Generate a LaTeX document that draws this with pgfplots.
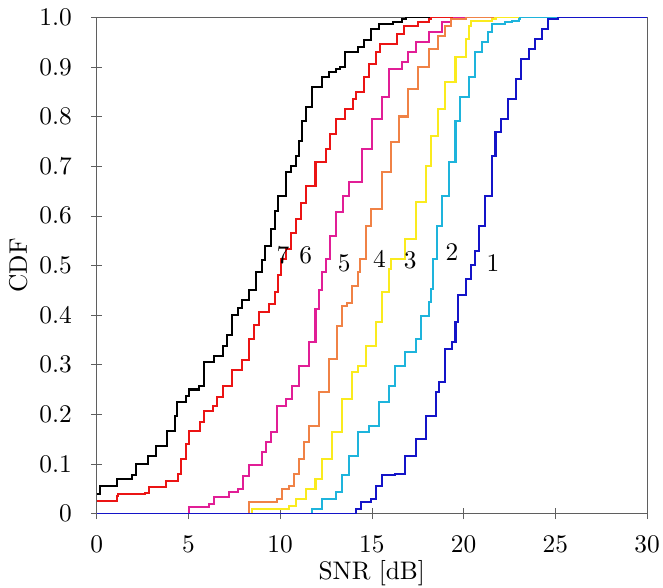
\documentclass[border=0pt]{standalone}
\usepackage{pgfplots}
\pgfplotsset{compat=1.18}

\definecolor{c1}{RGB}{20,20,200}
\definecolor{c2}{RGB}{30,180,220}
\definecolor{c3}{RGB}{250,235,30}
\definecolor{c4}{RGB}{240,130,70}
\definecolor{c5}{RGB}{225,30,150}
\definecolor{c6}{RGB}{235,20,20}
\definecolor{c7}{RGB}{0,0,0}
\definecolor{axgray}{RGB}{95,95,95}

\begin{document}
\begin{tikzpicture}
\begin{axis}[
    scale only axis,
    width=217pt, height=195.7pt,
    xmin=0, xmax=30, ymin=0, ymax=1,
    xtick={0,5,...,30},
    ytick={0,0.1,...,1.0},
    yticklabels={0,0.1,0.2,0.3,0.4,0.5,0.6,0.7,0.8,0.9,1.0},
    tick pos=left,
    tick align=center,
    axis line style={axgray},
    tick style={axgray},
    xticklabel style={yshift=-3.3pt},
    yticklabel style={xshift=-4.1pt},
    xlabel={SNR [dB]},
    ylabel={CDF},
    xlabel style={yshift=3.7pt},
    ylabel style={yshift=-2.1pt},
    every axis plot/.append style={const plot, line width=0.8pt, no marks},
  ]
  % 7
  \addplot[c7] coordinates {
    (0,0.04) (0.2,0.056) (1.11,0.07) (1.92,0.078) (2.17,0.10) (2.78,0.117)
    (3.24,0.137) (3.84,0.167) (4.25,0.197) (4.4,0.225) (4.85,0.237) (5.06,0.25)
    (5.56,0.258) (5.86,0.305) (6.42,0.318) (6.87,0.338) (7.08,0.36) (7.38,0.40)
    (7.68,0.415) (7.94,0.43) (8.29,0.45) (8.69,0.487) (9.0,0.51) (9.2,0.54)
    (9.5,0.573) (9.71,0.61) (9.91,0.64) (10.31,0.688) (10.62,0.70) (10.87,0.72)
    (11.02,0.75) (11.22,0.79) (11.42,0.82) (11.73,0.86) (12.28,0.88) (12.64,0.89)
    (13.04,0.895) (13.24,0.90) (13.55,0.93) (14.26,0.94) (14.56,0.955) (14.96,0.976)
    (15.37,0.986) (16.18,0.99) (16.63,0.996) (16.88,1) (30,1)
  };
  % 6
  \addplot[c6] coordinates {
    (0,0.025) (1.11,0.036) (1.16,0.04) (2.63,0.042) (2.88,0.054) (3.79,0.066)
    (4.45,0.08) (4.6,0.11) (4.85,0.14) (5.06,0.167) (5.61,0.185) (5.86,0.207)
    (6.32,0.217) (6.57,0.235) (6.87,0.257) (7.38,0.29) (7.94,0.31) (8.29,0.352)
    (8.59,0.38) (8.85,0.406) (9.4,0.422) (9.71,0.447) (9.86,0.48) (10.06,0.513)
    (10.31,0.533) (10.62,0.565) (10.87,0.594) (11.12,0.625) (11.42,0.66)
    (11.93,0.708) (12.49,0.734) (12.74,0.765) (13.04,0.795) (13.55,0.815)
    (13.95,0.835) (14.15,0.85) (14.56,0.88) (14.86,0.905) (15.22,0.93)
    (15.47,0.946) (16.38,0.966) (16.73,0.982) (17.54,0.99) (18.1,0.996)
    (18.2,1) (30,1)
  };
  % 5
  \addplot[c5] coordinates {
    (0,0) (5.03,0.014) (6.14,0.02) (6.42,0.034) (7.23,0.044) (7.68,0.05)
    (7.99,0.075) (8.29,0.097) (9.0,0.125) (9.25,0.145) (9.5,0.165) (9.81,0.217)
    (10.31,0.231) (10.67,0.257) (11.02,0.298) (11.58,0.346) (11.93,0.412)
    (12.13,0.45) (12.28,0.487) (12.49,0.513) (12.74,0.56) (13.04,0.608)
    (13.45,0.64) (13.75,0.668) (14.46,0.734) (15.0,0.795) (15.57,0.84)
    (15.92,0.895) (16.63,0.91) (16.98,0.93) (17.39,0.95) (18.1,0.97)
    (18.8,0.99) (19.31,0.996) (19.46,1) (30,1)
  };
  % 4
  \addplot[c4] coordinates {
    (0,0) (8.29,0.024) (9.81,0.03) (10.11,0.05) (10.51,0.056) (10.77,0.08)
    (11.02,0.11) (11.32,0.145) (11.58,0.177) (12.13,0.245) (12.64,0.312)
    (13.09,0.378) (13.35,0.418) (13.65,0.425) (13.9,0.459) (14.26,0.487)
    (14.36,0.513) (14.66,0.58) (14.96,0.614) (15.57,0.688) (16.07,0.748)
    (16.48,0.8) (16.98,0.855) (17.54,0.9) (18.1,0.936) (18.6,0.962)
    (19.01,0.982) (19.31,0.996) (20.12,1) (30,1)
  };
  % 3
  \addplot[c3] coordinates {
    (0,0) (8.49,0.01) (10.51,0.015) (10.87,0.03) (11.42,0.05) (11.93,0.07)
    (12.28,0.11) (12.84,0.165) (13.35,0.23) (13.9,0.286) (14.26,0.298)
    (14.66,0.338) (15.22,0.386) (15.57,0.447) (15.92,0.493) (16.07,0.513)
    (16.83,0.553) (17.39,0.628) (17.95,0.7) (18.25,0.76) (18.6,0.815)
    (19.01,0.87) (19.56,0.92) (20.12,0.956) (20.27,0.982) (20.42,0.992)
    (21.53,0.996) (21.74,1) (30,1)
  };
  % 2
  \addplot[c2] coordinates {
    (0,0) (11.73,0.01) (12.28,0.03) (13.04,0.044) (13.35,0.077) (13.75,0.117)
    (14.26,0.165) (14.86,0.177) (15.37,0.225) (15.92,0.257) (16.28,0.298)
    (16.83,0.326) (17.39,0.352) (17.69,0.398) (18.1,0.426) (18.25,0.453)
    (18.35,0.513) (18.55,0.58) (18.8,0.64) (19.21,0.708) (19.56,0.79)
    (19.82,0.84) (20.27,0.88) (20.62,0.93) (20.98,0.95) (21.33,0.97)
    (21.53,0.986) (22.24,0.99) (22.65,0.992) (23.0,0.996) (23.1,1) (30,1)
  };
  % 1
  \addplot[c1] coordinates {
    (0,0) (14.15,0.01) (14.41,0.024) (14.96,0.03) (15.22,0.056) (15.57,0.077)
    (16.28,0.08) (16.83,0.117) (17.39,0.151) (17.95,0.197) (18.5,0.245)
    (18.65,0.265) (19.01,0.332) (19.36,0.346) (19.56,0.386) (19.71,0.44)
    (20.12,0.473) (20.42,0.5) (20.62,0.53) (20.83,0.58) (21.18,0.64)
    (21.53,0.72) (21.74,0.768) (22.04,0.795) (22.44,0.835) (22.85,0.875)
    (23.15,0.915) (23.56,0.936) (23.91,0.956) (24.26,0.976) (24.62,0.996)
    (25.17,1) (30,1)
  };
  \node at (axis cs:10.15,0.52) {7};
  \node at (axis cs:11.4,0.52) {6};
  \node at (axis cs:13.5,0.504) {5};
  \node at (axis cs:15.41,0.514) {4};
  \node at (axis cs:17.09,0.51) {3};
  \node at (axis cs:19.37,0.526) {2};
  \node at (axis cs:21.6,0.504) {1};
\end{axis}
\pgfresetboundingbox
\path ([xshift=-38.1pt,yshift=-29.3pt]current axis.south west)
  rectangle ([xshift=6.3pt,yshift=6.8pt]current axis.north east);
\end{tikzpicture}
\end{document}
